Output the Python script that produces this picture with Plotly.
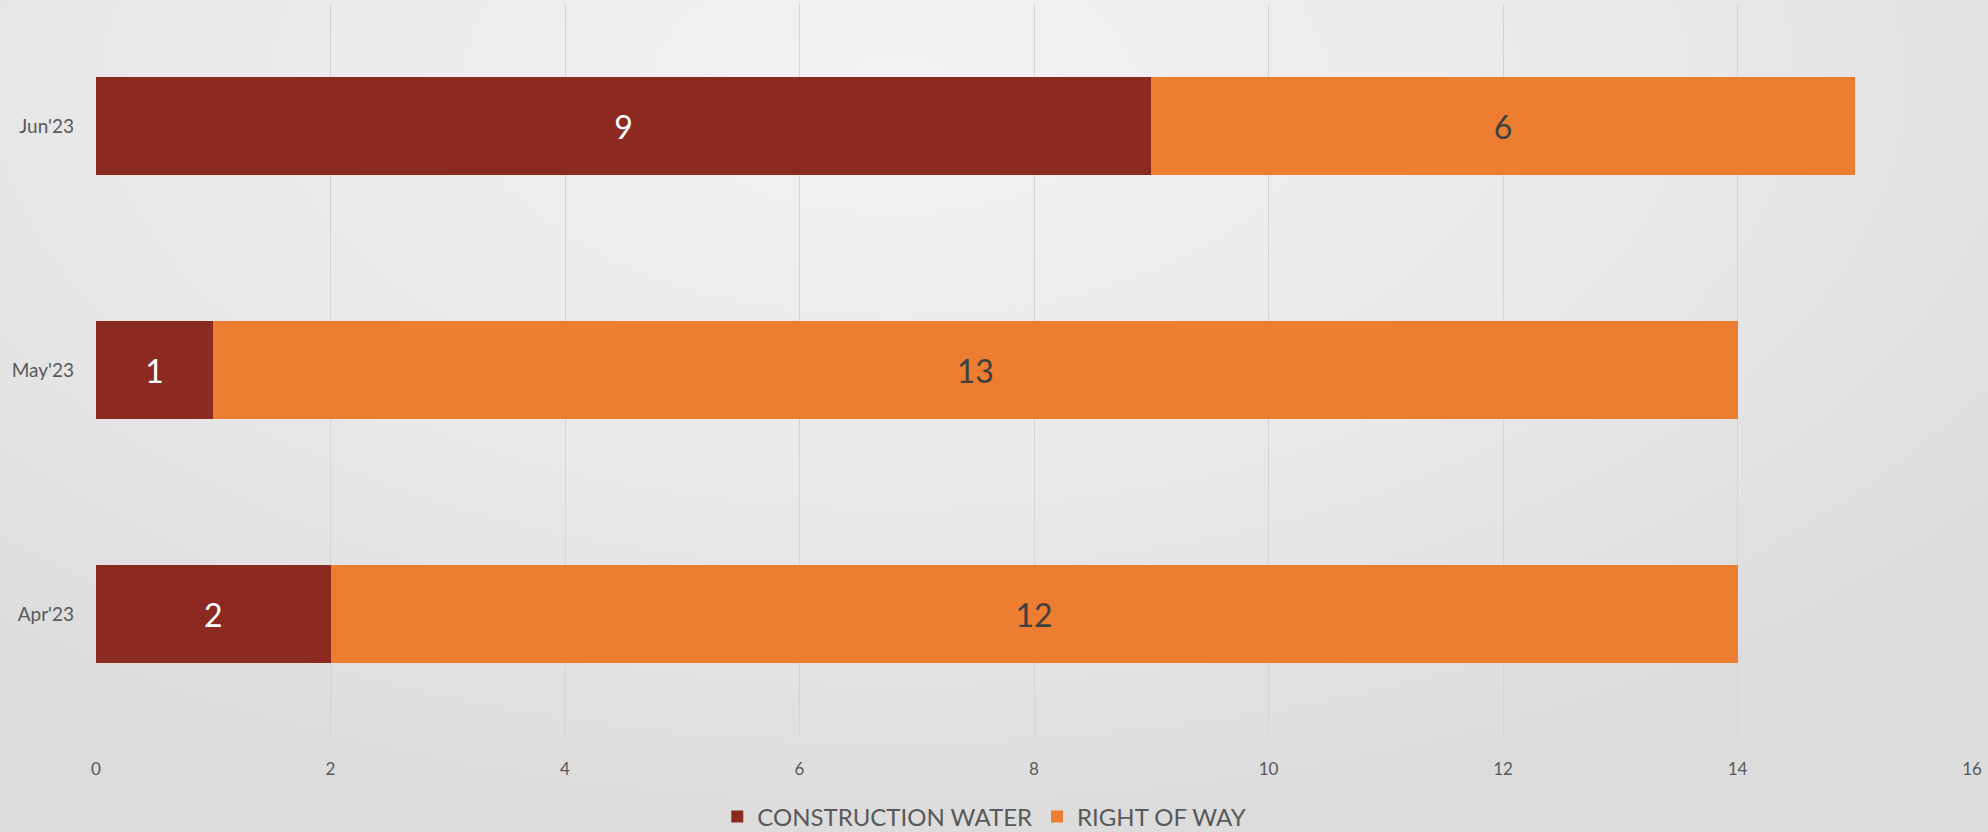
import plotly.graph_objects as go

months = ["Apr'23", "May'23", "Jun'23"]
construction_water = [2, 1, 9]
right_of_way = [12, 13, 6]
x_ticks = [0, 2, 4, 6, 8, 10, 12, 14, 16]

FONT = "Lato, 'Open Sans', sans-serif"

fig = go.Figure()
fig.add_trace(go.Bar(
    y=months, x=construction_water, orientation="h", name="CONSTRUCTION WATER",
    marker=dict(color="#8C2A21", line=dict(width=0)),
    text=construction_water, textposition="inside", insidetextanchor="middle",
    textfont=dict(family=FONT, size=32, color="#FFFFFF"), textangle=0,
))
fig.add_trace(go.Bar(
    y=months, x=right_of_way, orientation="h", name="RIGHT OF WAY",
    marker=dict(color="#ED7D31", line=dict(width=0)),
    text=right_of_way, textposition="inside", insidetextanchor="middle",
    textfont=dict(family=FONT, size=32, color="#404040"), textangle=0,
))

fig.update_layout(
    width=1988, height=832,
    barmode="stack", bargap=0.6,
    paper_bgcolor="rgba(0,0,0,0)", plot_bgcolor="rgba(0,0,0,0)",
    margin=dict(l=96, r=16, t=4, b=96, autoexpand=False),
    font=dict(family=FONT, color="#595959"),
    xaxis=dict(range=[0, 16], tickvals=x_ticks, showgrid=True, gridcolor="#D4D4D4",
               gridwidth=1, zeroline=False, showline=False, ticks="",
               tickfont=dict(size=17, color="#595959"), ticklabelstandoff=21),
    yaxis=dict(range=[-0.5, 2.5], showgrid=False, zeroline=False, showline=False,
               ticks="", tickfont=dict(size=19, color="#595959"), ticklabelstandoff=21),
    legend=dict(orientation="h", x=0.4735, xanchor="center",
                yref="container", y=0.018, yanchor="middle",
                font=dict(size=24, color="#595959"), traceorder="normal",
                itemwidth=30, bgcolor="rgba(0,0,0,0)"),
    showlegend=True,
)

post = (
    "document.documentElement.style.margin='0';"
    "document.body.style.margin='0';"
    "document.body.style.overflow='hidden';"
    "document.body.style.background='radial-gradient(ellipse 70% 90% at 45% 10%, #F2F2F2 0%, #E9E9E9 55%, #DCDCDC 100%)';"
    "document.body.style.minHeight='832px';"
)

fig.write_html("out.html", post_script=post, config={"displayModeBar": False})
